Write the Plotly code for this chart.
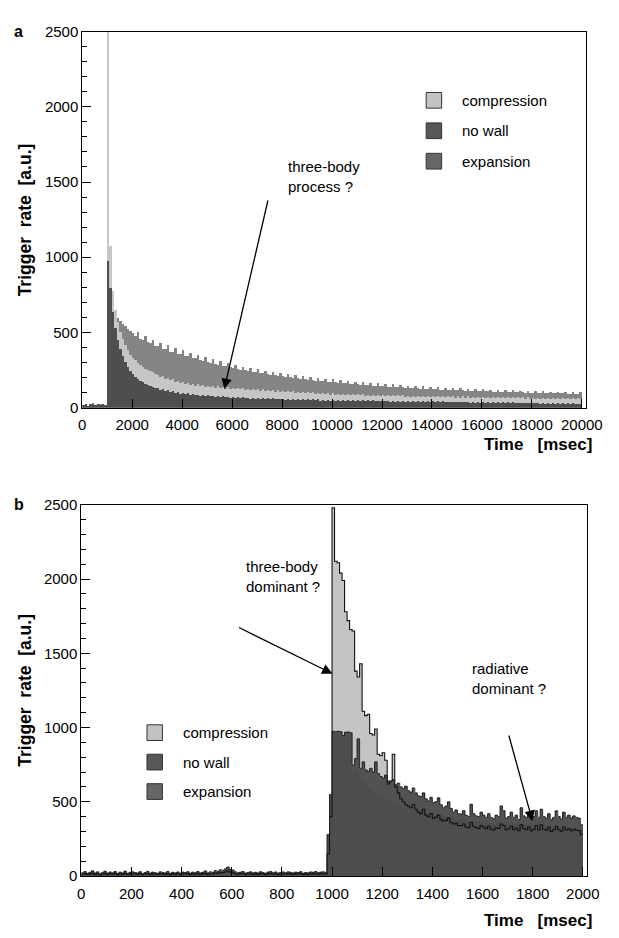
import numpy as np
import plotly.graph_objects as go

# ---------------- data ----------------
# panel a: 100 msec bins, 0 .. 20000 msec
a_bin_ms = 100
a_compression = [
    18, 24, 14, 21, 26, 16, 23, 19, 25, 17,
    2500, 1080, 780, 650, 570, 505, 460, 420, 385, 355,
    335, 318, 300, 288, 275, 262, 256, 244, 238, 226,
    222, 208, 212, 196, 200, 184, 190, 175, 181, 168,
    174, 160, 168, 154, 163, 150, 158, 146, 154, 142,
    150, 139, 147, 136, 144, 133, 141, 130, 139, 128,
    136, 126, 134, 124, 132, 122, 130, 120, 128, 118,
    126, 116, 124, 114, 122, 112, 120, 110, 118, 108,
    116, 106, 114, 105, 112, 103, 110, 101, 108, 99,
    106, 97, 104, 96, 102, 94, 100, 92, 98, 90,
    97, 89, 96, 88, 95, 87, 94, 86, 93, 85,
    92, 84, 91, 83, 90, 82, 89, 81, 88, 80,
    87, 79, 86, 78, 86, 77, 85, 77, 84, 76,
    83, 75, 83, 74, 82, 74, 81, 73, 81, 73,
    80, 72, 80, 72, 79, 71, 79, 71, 78, 70,
    78, 70, 77, 69, 77, 69, 76, 68, 76, 68,
    75, 67, 75, 67, 74, 66, 74, 66, 73, 65,
    73, 65, 72, 64, 72, 64, 71, 63, 71, 63,
    70, 62, 70, 62, 69, 61, 69, 61, 68, 60,
    68, 60, 67, 60, 67, 59, 66, 59, 66, 58,
]
a_nowall = [
    20, 28, 15, 24, 30, 18, 26, 22, 27, 19,
    975, 800, 640, 530, 455, 395, 345, 305, 272, 246,
    225, 208, 194, 182, 172, 163, 155, 148, 142, 136,
    131, 120, 124, 112, 117, 106, 111, 101, 106, 96,
    101, 92, 97, 88, 93, 85, 90, 82, 87, 80,
    84, 77, 82, 75, 80, 73, 78, 71, 76, 70,
    74, 68, 73, 66, 71, 65, 70, 63, 68, 62,
    67, 61, 66, 60, 65, 59, 64, 58, 63, 57,
    62, 56, 61, 55, 60, 54, 60, 53, 59, 52,
    58, 52, 57, 51, 57, 50, 56, 50, 55, 49,
    55, 49, 54, 48, 54, 48, 53, 47, 53, 47,
    52, 46, 52, 46, 51, 45, 51, 45, 50, 44,
    50, 44, 49, 43, 49, 43, 48, 42, 48, 42,
    47, 42, 47, 41, 46, 41, 46, 40, 45, 40,
    45, 40, 44, 39, 44, 39, 43, 38, 43, 38,
    42, 37, 42, 37, 41, 36, 41, 36, 40, 36,
    40, 35, 39, 35, 39, 34, 38, 34, 38, 33,
    37, 33, 37, 32, 36, 32, 36, 31, 35, 31,
    35, 31, 34, 30, 34, 30, 33, 29, 33, 29,
    32, 28, 32, 28, 31, 27, 31, 27, 30, 26,
]
a_expansion = [
    22, 30, 17, 26, 32, 20, 28, 24, 29, 21,
    860, 720, 665, 620, 598, 580, 560, 548, 528, 512,
    498, 478, 508, 462, 452, 480, 438, 432, 455, 415,
    410, 432, 395, 390, 416, 376, 372, 398, 362, 357,
    385, 348, 344, 366, 334, 330, 352, 320, 316, 338,
    308, 302, 323, 294, 289, 310, 282, 278, 298, 272,
    268, 287, 260, 256, 276, 250, 247, 268, 242, 238,
    257, 234, 230, 249, 226, 222, 242, 218, 215, 234,
    211, 208, 227, 204, 201, 220, 198, 195, 213, 192,
    189, 206, 186, 183, 200, 180, 178, 195, 175, 173,
    190, 171, 169, 185, 166, 164, 180, 162, 160, 176,
    158, 156, 172, 154, 152, 168, 150, 149, 164, 147,
    145, 160, 143, 142, 157, 140, 139, 153, 137, 136,
    150, 134, 133, 147, 131, 130, 144, 128, 127, 141,
    126, 125, 138, 123, 122, 135, 121, 120, 133, 119,
    118, 131, 117, 116, 129, 115, 114, 127, 113, 113,
    125, 112, 111, 123, 110, 109, 121, 108, 108, 119,
    107, 106, 118, 105, 105, 116, 104, 103, 114, 102,
    102, 113, 101, 100, 111, 100, 99, 110, 98, 98,
    109, 97, 97, 107, 96, 96, 106, 95, 95, 105,
]

# panel b: 10 msec bins, 0 .. 2000 msec
b_bin_ms = 10
b_compression = [
    12, 16, 10, 14, 19, 11, 15, 8, 13, 18,
    10, 15, 12, 17, 9, 14, 11, 18, 10, 14,
    15, 13, 10, 16, 8, 13, 17, 10, 14, 12,
    10, 15, 13, 11, 17, 9, 14, 11, 15, 10,
    14, 13, 16, 10, 14, 12, 17, 11, 14, 19,
    11, 15, 13, 20, 17, 24, 22, 27, 34, 26,
    22, 15, 12, 14, 17, 10, 13, 15, 11, 14,
    11, 16, 13, 10, 14, 18, 12, 15, 10, 13,
    15, 12, 16, 14, 11, 14, 13, 16, 10, 14,
    11, 15, 14, 17, 12, 14, 16, 13, 150, 400,
    2480, 2120, 2110, 2040, 1990, 1780, 1720, 1660, 1650, 1380,
    1340, 1430, 1110, 1080, 1090, 960, 950, 990, 820, 810,
    830, 780, 620, 640, 820, 600, 560, 520, 500, 480,
    470, 460, 480, 450, 430, 420, 450, 410, 400, 420,
    390, 395, 410, 380, 370, 375, 390, 360, 350, 355,
    340, 338, 350, 330, 325, 360, 335, 325, 320, 340,
    330, 318, 335, 315, 310, 325, 320, 350, 340, 312,
    318, 335, 312, 322, 305, 345, 320, 312, 330, 305,
    315, 340, 310, 345, 315, 308, 330, 300, 312, 335,
    312, 302, 330, 310, 318, 305, 315, 308, 305, 280,
]
b_nowall = [
    22, 30, 18, 25, 35, 20, 28, 15, 24, 32,
    19, 27, 22, 30, 17, 26, 21, 33, 18, 25,
    28, 24, 20, 29, 16, 23, 31, 19, 26, 22,
    18, 28, 24, 20, 30, 17, 25, 21, 27, 19,
    26, 23, 29, 18, 26, 22, 30, 20, 25, 34,
    21, 28, 24, 36, 30, 42, 38, 48, 60, 45,
    40, 28, 22, 26, 30, 19, 24, 28, 21, 25,
    20, 29, 23, 18, 26, 31, 22, 27, 19, 24,
    27, 22, 28, 25, 20, 26, 23, 29, 18, 24,
    21, 27, 25, 30, 22, 26, 28, 24, 280, 550,
    975, 972, 975, 972, 946, 968, 970, 965, 700, 720,
    924, 660, 640, 620, 600, 590, 575, 560, 550, 540,
    530, 520, 512, 505, 498, 490, 484, 478, 472, 466,
    460, 455, 450, 445, 440, 436, 432, 428, 424, 420,
    416, 412, 409, 406, 403, 400, 397, 394, 391, 388,
    386, 384, 382, 380, 378, 376, 374, 372, 370, 368,
    366, 364, 362, 360, 359, 358, 356, 355, 354, 352,
    351, 350, 349, 348, 346, 345, 344, 343, 342, 341,
    340, 339, 338, 337, 336, 335, 334, 333, 332, 331,
    330, 329, 328, 327, 326, 325, 324, 323, 322, 320,
]
b_expansion = [
    15, 20, 12, 18, 24, 14, 19, 10, 17, 22,
    13, 19, 15, 21, 11, 18, 14, 23, 12, 17,
    19, 16, 13, 20, 10, 16, 22, 13, 18, 15,
    12, 19, 16, 14, 21, 11, 17, 14, 19, 13,
    18, 16, 20, 12, 18, 15, 21, 14, 17, 24,
    14, 19, 16, 25, 21, 30, 27, 34, 42, 32,
    28, 19, 15, 18, 21, 13, 16, 19, 14, 17,
    14, 20, 16, 12, 18, 22, 15, 19, 13, 16,
    19, 15, 20, 17, 14, 18, 16, 20, 12, 17,
    14, 19, 17, 21, 15, 18, 20, 16, 200, 420,
    560, 600, 640, 660, 680, 690, 700, 710, 747, 791,
    700, 725, 769, 714, 705, 725, 700, 769, 690, 670,
    660, 680, 640, 637, 650, 615, 625, 600, 590, 605,
    575, 565, 593, 560, 540, 535, 560, 520, 505, 530,
    495, 500, 527, 480, 460, 470, 500, 455, 430, 445,
    420, 417, 440, 410, 400, 483, 420, 405, 400, 430,
    410, 395, 420, 395, 385, 410, 400, 472, 440, 390,
    400, 430, 395, 410, 380, 460, 405, 395, 420, 385,
    400, 440, 395, 450, 400, 390, 420, 380, 395, 439,
    400, 385, 430, 395, 410, 390, 405, 395, 390, 345,
]

series_names = ["compression", "no wall", "expansion"]
legend_colors = {"compression": "#c2c2c2", "no wall": "#575757", "expansion": "#666666"}
a_colors = {"compression": "#c6c6c6", "no wall": "#4e4e4e", "expansion": "#858585"}
b_colors = {"compression": "#c4c4c4", "no wall": "#4d4d4d", "expansion": "#525252"}

a_xticks = [0, 2000, 4000, 6000, 8000, 10000, 12000, 14000, 16000, 18000, 20000]
b_xticks = [0, 200, 400, 600, 800, 1000, 1200, 1400, 1600, 1800, 2000]
y_ticks = [0, 500, 1000, 1500, 2000, 2500]

# ---------------- figure ----------------
W, H = 619, 938
FONT = "Liberation Sans, Arial, Helvetica, sans-serif"


def px(x):
    return x / W


def py(y):
    return 1 - y / H


fig = go.Figure()


def add_hist(values, bin_ms, color, xa, ya):
    left = np.arange(len(values)) * bin_ms
    fig.add_trace(go.Bar(
        x=left + bin_ms / 2, y=values, width=bin_ms,
        marker=dict(color=color, line=dict(width=0)),
        xaxis=xa, yaxis=ya, showlegend=False, hoverinfo="skip",
    ))


def add_outline(values, bin_ms, color, xa, ya, width=1.1):
    left = np.arange(len(values)) * bin_ms
    edges = np.append(left, left[-1] + bin_ms)
    fig.add_trace(go.Scatter(
        x=edges, y=list(values) + [values[-1]], mode="lines",
        line=dict(color=color, width=width, shape="hv"),
        xaxis=xa, yaxis=ya, showlegend=False, hoverinfo="skip",
    ))


# panel a: expansion at the back, compression, no wall in front
add_hist(a_expansion, a_bin_ms, a_colors["expansion"], "x", "y")
add_hist(a_compression, a_bin_ms, a_colors["compression"], "x", "y")
add_hist(a_nowall, a_bin_ms, a_colors["no wall"], "x", "y")

# panel b: compression at the back, outlined
add_hist(b_compression, b_bin_ms, b_colors["compression"], "x2", "y2")
add_outline(b_compression, b_bin_ms, "#111111", "x2", "y2")
add_hist(b_expansion, b_bin_ms, b_colors["expansion"], "x2", "y2")
add_hist(b_nowall, b_bin_ms, b_colors["no wall"], "x2", "y2")
add_outline(np.maximum(b_expansion, b_nowall), b_bin_ms, "#222222", "x2", "y2", width=1)

axis_common = dict(
    showline=True, linecolor="black", linewidth=1, mirror=True,
    ticks="inside", tickcolor="black", ticklen=9, tickwidth=1,
    showgrid=False, zeroline=False,
    tickfont=dict(family=FONT, size=15, color="black"),
)
y_minor = dict(dtick=100, ticks="inside", ticklen=5, tickcolor="black")

fig.update_layout(
    width=W, height=H,
    margin=dict(l=0, r=0, t=0, b=0),
    paper_bgcolor="white", plot_bgcolor="white",
    barmode="overlay", bargap=0,
    font=dict(family=FONT, color="black"),
    xaxis=dict(domain=[px(81), px(602)], anchor="y", range=[0, 20150],
               tickvals=a_xticks, ticktext=[str(v) for v in a_xticks],
               ticklabelstandoff=3, **axis_common),
    yaxis=dict(domain=[py(406), py(23)], anchor="x", range=[0, 2500],
               tickvals=y_ticks, minor=y_minor, **axis_common),
    xaxis2=dict(domain=[px(80), px(603)], anchor="y2", range=[0, 2015],
                tickvals=b_xticks, ticktext=[str(v) for v in b_xticks],
                ticklabelstandoff=4, **axis_common),
    yaxis2=dict(domain=[py(883), py(505)], anchor="x2", range=[0, 2500],
                tickvals=y_ticks, minor=y_minor, **axis_common),
)

ann = []
shapes = []


def text(x, y, s, size=15, bold=False, xanchor="left", angle=0):
    ann.append(dict(
        x=px(x), y=py(y), xref="paper", yref="paper", text=f"<b>{s}</b>" if bold else s,
        showarrow=False, xanchor=xanchor, yanchor="middle", textangle=angle,
        font=dict(family=FONT, size=size, color="black"), align="left",
    ))


def arrow(x0, y0, x1, y1):
    ann.append(dict(
        x=px(x1), y=py(y1), xref="paper", yref="paper", text="",
        showarrow=True, ax=x0 - x1, ay=y0 - y1, arrowhead=2, arrowsize=1.6,
        arrowwidth=1.3, arrowcolor="black", standoff=0,
    ))


def legend(x, y0, step):
    for i, name in enumerate(series_names):
        yc = y0 + i * step
        shapes.append(dict(type="rect", xref="paper", yref="paper",
                           x0=px(x), x1=px(x + 16), y0=py(yc + 8), y1=py(yc - 8),
                           fillcolor=legend_colors[name], line=dict(color="#333333", width=1)))
        text(x + 35, yc, name, size=15)


# panel labels and axis titles
text(8, 23, "a", size=16, bold=True)
text(8, 505, "b", size=16, bold=True)
text(22, 215, "Trigger&nbsp;&nbsp;rate&nbsp;&nbsp;[a.u.]", size=17.5, bold=True, xanchor="center", angle=-90)
text(22, 694, "Trigger&nbsp;&nbsp;rate&nbsp;&nbsp;[a.u.]", size=17.5, bold=True, xanchor="center", angle=-90)
text(611, 444, "Time&nbsp;&nbsp;&nbsp;[msec]", size=17, bold=True, xanchor="right")
text(611, 928, "Time&nbsp;&nbsp;&nbsp;[msec]", size=17, bold=True, xanchor="right")

# legends
legend(437, 93, 31)
legend(148, 737, 30)

# annotations
text(292, 171, "three-body<br>process ?")
arrow(272, 197, 228, 387)
text(248, 578, "three-body<br>dominant ?")
arrow(245, 630, 340, 677)
text(482, 682, "radiative<br>dominant ?")
arrow(523, 740, 547, 827)

fig.update_layout(annotations=ann, shapes=shapes)
fig.write_html(
    "out.html",
    config={"displayModeBar": False},
    post_script="document.body.style.margin='0px';document.documentElement.style.overflow='hidden';",
)
